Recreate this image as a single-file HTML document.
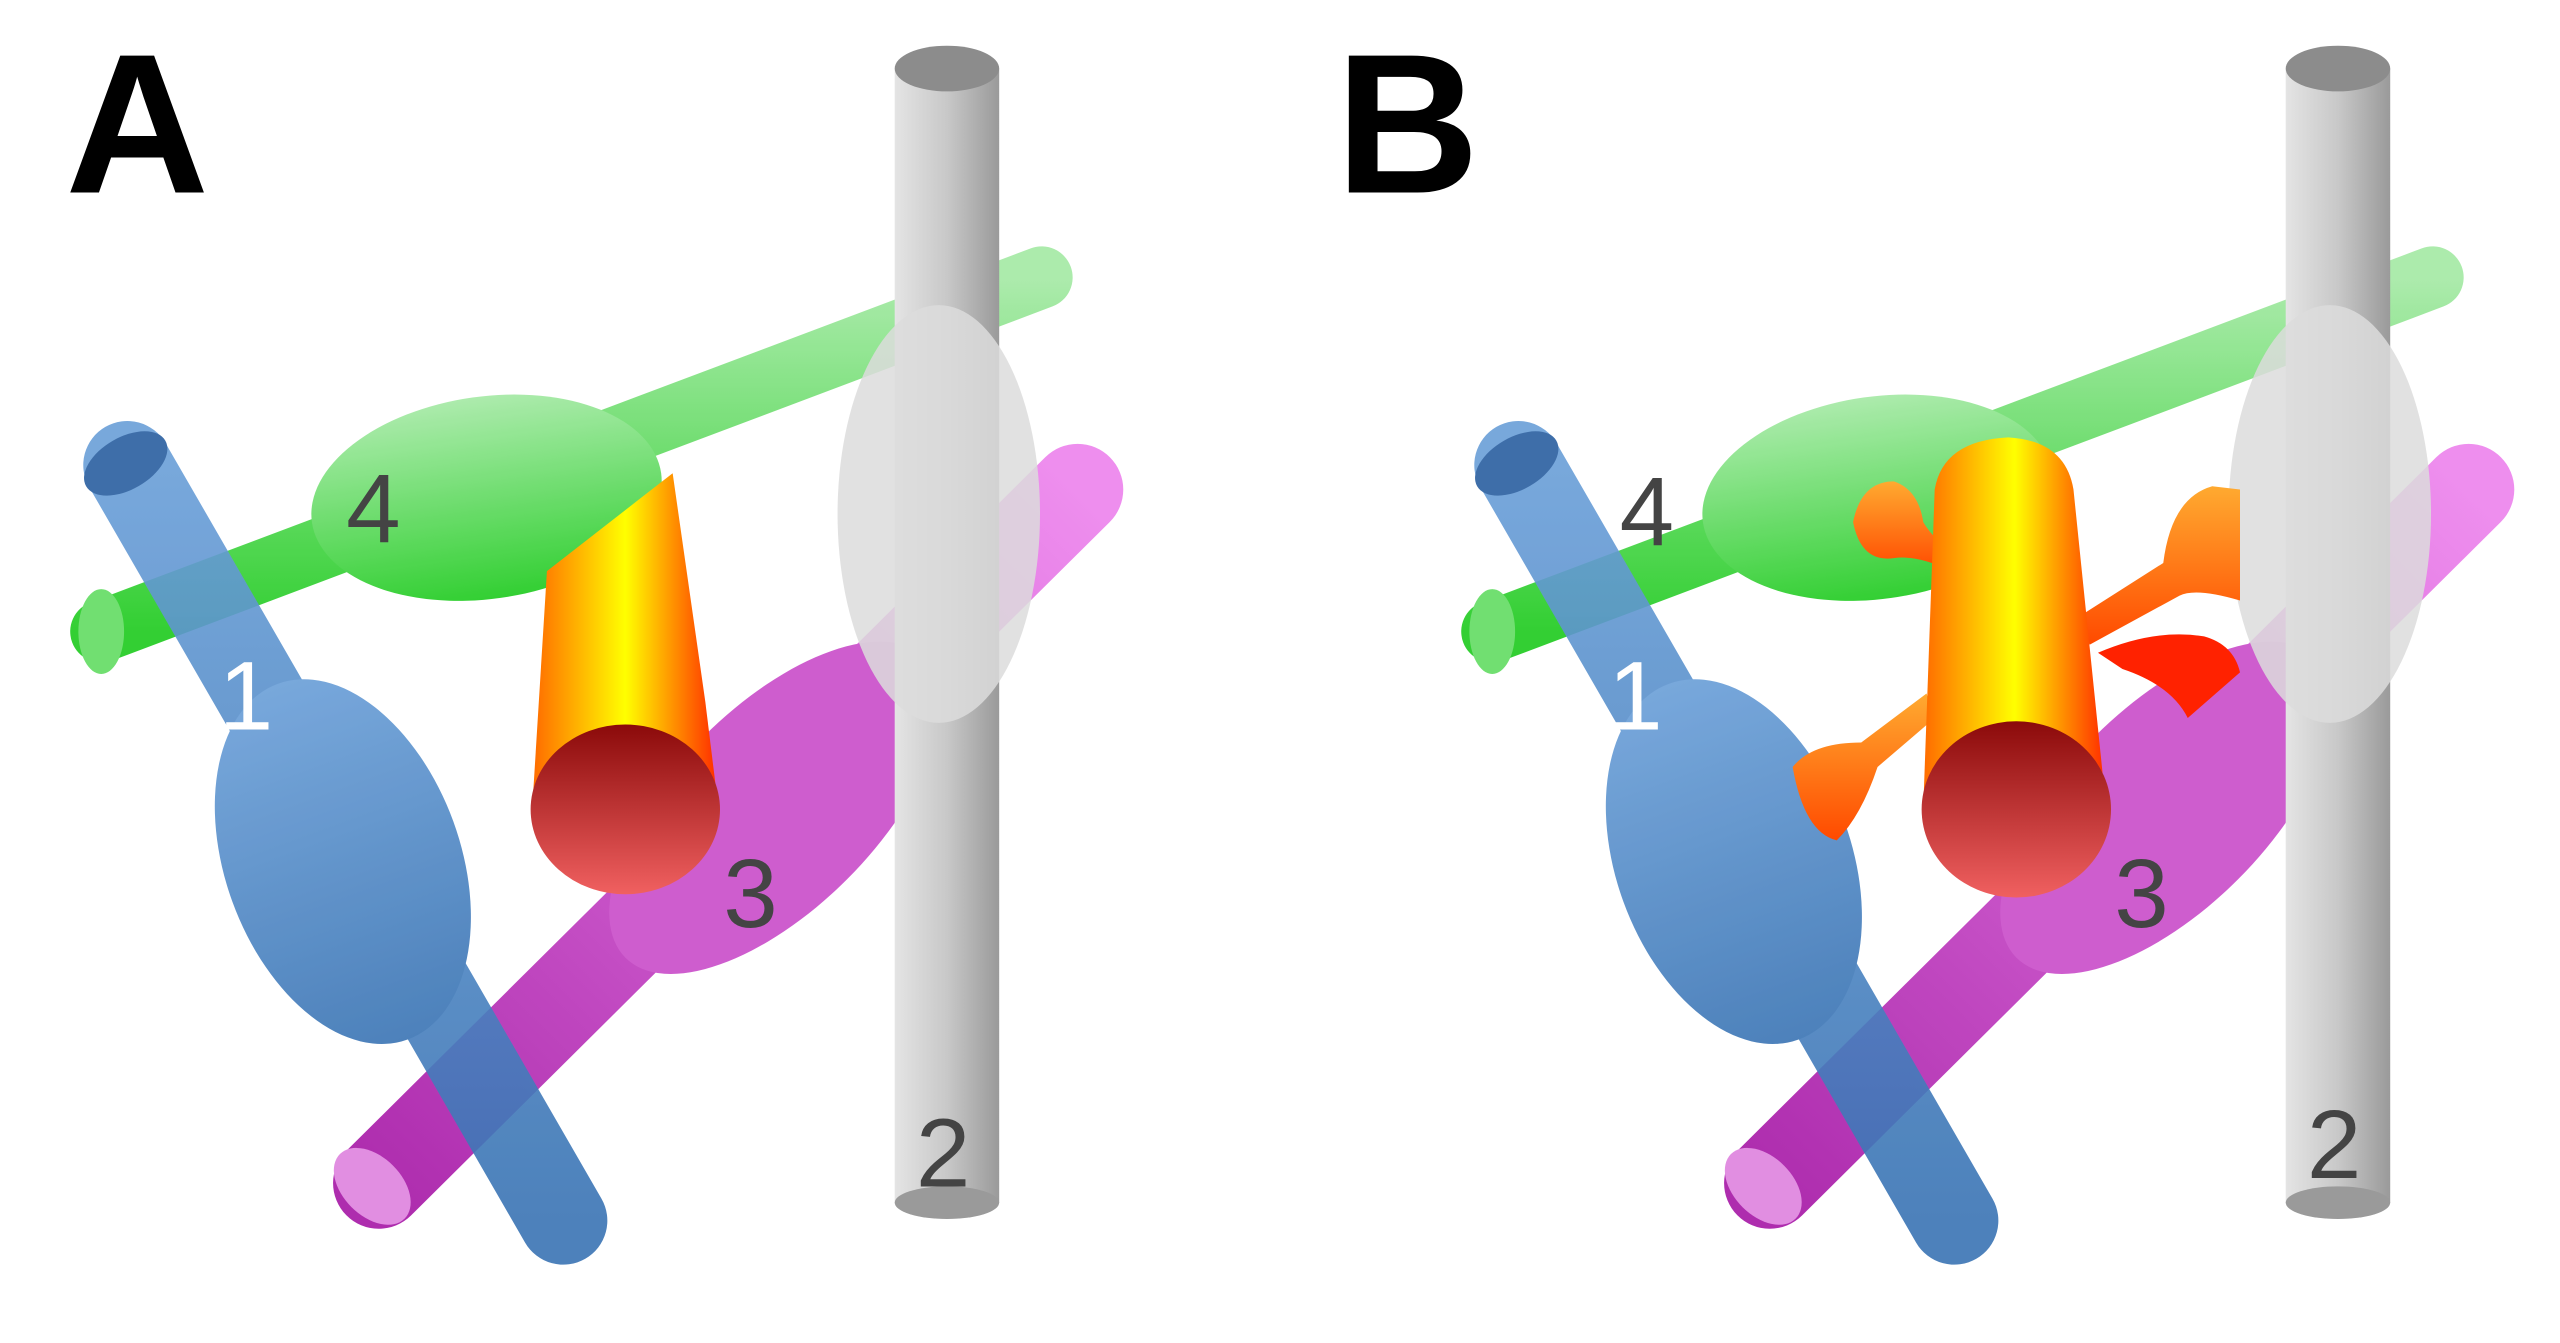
<!DOCTYPE html>
<html><head><meta charset="utf-8"><style>html,body{margin:0;padding:0;background:#fff}svg{display:block}</style></head>
<body>
<svg width="2560" height="1343" viewBox="0 0 1568 823" preserveAspectRatio="none" xmlns="http://www.w3.org/2000/svg">
<defs>
<linearGradient id="gray" x1="0" x2="1" y1="0" y2="0"><stop offset="0" stop-color="#e4e4e4"/><stop offset="0.5" stop-color="#c8c8c8"/><stop offset="1" stop-color="#9a9a9a"/></linearGradient>
<linearGradient id="green" x1="0" x2="0" y1="0" y2="1"><stop offset="0" stop-color="#a6eaa6"/><stop offset="1" stop-color="#22cc22"/></linearGradient>
<linearGradient id="blue" x1="0" x2="0" y1="0" y2="1"><stop offset="0" stop-color="#6a9fd8"/><stop offset="1" stop-color="#3a74b4"/></linearGradient>
<linearGradient id="mag" x1="1" x2="0" y1="0" y2="1"><stop offset="0" stop-color="#ee88ee"/><stop offset="1" stop-color="#aa22aa"/></linearGradient>
<linearGradient id="org" x1="0" x2="1" y1="0" y2="0"><stop offset="0" stop-color="#ff6a00"/><stop offset="0.5" stop-color="#ffff00"/><stop offset="1" stop-color="#ff2a00"/></linearGradient>
<linearGradient id="cap" x1="0" x2="0" y1="0" y2="1"><stop offset="0" stop-color="#8b0a0a"/><stop offset="1" stop-color="#f06060"/></linearGradient>
<linearGradient id="bud" x1="0" x2="0" y1="0" y2="1"><stop offset="0" stop-color="#ffaa30"/><stop offset="1" stop-color="#ff4a00"/></linearGradient>
<g id="panel">
  <g opacity="0.95">
    <line x1="232" y1="725" x2="660" y2="300" stroke="url(#mag)" stroke-width="56" stroke-linecap="round"/>
    <ellipse cx="475" cy="495" rx="130" ry="62" transform="rotate(-45 475 495)" fill="#cc55cc"/>
    <ellipse cx="228" cy="727" rx="18" ry="28" transform="rotate(-45 228 727)" fill="#e088e0"/>
  </g>
  <g opacity="0.92">
    <line x1="62" y1="387" x2="638" y2="170" stroke="url(#green)" stroke-width="38" stroke-linecap="round"/>
    <ellipse cx="298" cy="305" rx="108" ry="62" transform="rotate(-8 298 305)" fill="url(#green)"/>
    <ellipse cx="62" cy="387" rx="14" ry="26" fill="#66dd66"/>
  </g>
  <g opacity="0.9">
    <line x1="78" y1="285" x2="345" y2="748" stroke="url(#blue)" stroke-width="54" stroke-linecap="round"/>
    <ellipse cx="210" cy="528" rx="72" ry="116" transform="rotate(-20 210 528)" fill="url(#blue)"/>
    <ellipse cx="77" cy="284" rx="28" ry="16" transform="rotate(-30 77 284)" fill="#2a5fa0"/>
  </g>
  <g>
    <rect x="548" y="42" width="64" height="695" fill="url(#gray)"/>
    <ellipse cx="580" cy="737" rx="32" ry="10" fill="#9a9a9a"/>
    <ellipse cx="580" cy="42" rx="32" ry="14" fill="#8c8c8c"/>
    <ellipse cx="575" cy="315" rx="62" ry="128" fill="#dcdcdc" opacity="0.85"/>
  </g>
</g>
</defs>

<use href="#panel"/>
<path d="M335 350 L412 290 L432 430 L440 495 L326 495 Z" fill="url(#org)"/>
<ellipse cx="383" cy="496" rx="58" ry="52" fill="url(#cap)"/>
<text x="40" y="118" font-family="Liberation Sans, sans-serif" font-weight="bold" font-size="122" fill="#000">A</text>
<text x="212" y="332" font-family="Liberation Sans, sans-serif" font-size="60" fill="#444">4</text>
<text x="134" y="447" font-family="Liberation Sans, sans-serif" font-size="60" fill="#fff">1</text>
<text x="443" y="568" font-family="Liberation Sans, sans-serif" font-size="60" fill="#444">3</text>
<text x="561" y="727" font-family="Liberation Sans, sans-serif" font-size="60" fill="#444">2</text>

<g transform="translate(852,0)">
<use href="#panel"/>
</g>
<path d="M1135 320 Q1140 295 1160 295 Q1175 300 1178 320 Q1185 332 1200 340 L1195 350 Q1175 340 1160 342 Q1140 345 1135 320 Z" fill="url(#bud)"/>
<path d="M1270 380 L1325 345 Q1330 305 1355 298 L1372 300 L1372 368 Q1345 360 1335 365 L1280 395 Z" fill="url(#bud)"/>
<path d="M1285 400 Q1320 385 1350 390 Q1368 395 1372 412 L1340 440 Q1330 420 1300 410 Z" fill="#ff2200"/>
<path d="M1185 440 L1150 470 Q1140 500 1125 515 Q1105 510 1098 470 Q1110 455 1140 455 L1180 425 Z" fill="url(#bud)"/>
<path d="M1185 300 Q1190 270 1230 268 Q1265 270 1270 300 L1290 495 L1178 495 Z" fill="url(#org)"/>
<ellipse cx="1235" cy="496" rx="58" ry="54" fill="url(#cap)"/>
<text x="818" y="118" font-family="Liberation Sans, sans-serif" font-weight="bold" font-size="122" fill="#000">B</text>
<text x="992" y="334" font-family="Liberation Sans, sans-serif" font-size="60" fill="#444">4</text>
<text x="985" y="447" font-family="Liberation Sans, sans-serif" font-size="60" fill="#fff">1</text>
<text x="1295" y="568" font-family="Liberation Sans, sans-serif" font-size="60" fill="#444">3</text>
<text x="1413" y="722" font-family="Liberation Sans, sans-serif" font-size="60" fill="#444">2</text>
</svg>
</body></html>
